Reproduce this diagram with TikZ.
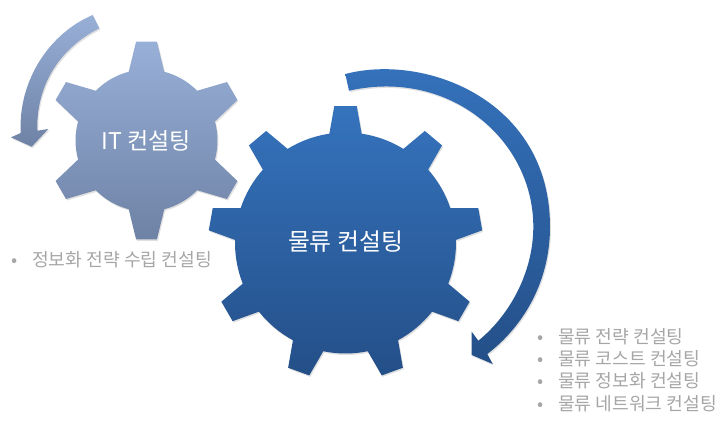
\documentclass[tikz,border=0pt]{standalone}
\usepackage{fontspec}
\setmainfont{Noto Sans CJK KR}
\usetikzlibrary{positioning, shadows}
\definecolor{palehigh}{HTML}{98AFD7}
\definecolor{palelow}{HTML}{6E82A5}
\definecolor{deephigh}{HTML}{3573BD}
\definecolor{deeplow}{HTML}{244F88}
\definecolor{notegray}{HTML}{A6A6A6}

\begin{document}
\begin{tikzpicture}[x=1pt,y=-1pt]
\tikzstyle{softshadow}=[drop shadow={opacity=.3,shadow xshift=1pt,shadow yshift=-1.5pt,fill=black!40}]
\tikzstyle{palepart}=[softshadow,postaction={top color=palehigh,bottom color=palelow}]
\tikzstyle{deeppart}=[softshadow,postaction={top color=deephigh,bottom color=deeplow}]
\tikzstyle{gearlabel}=[text=white]
\tikzstyle{noteline}=[text=notegray,font=\fontsize{18.2}{20}\selectfont,inner xsep=0pt,inner ysep=3pt,text height=12pt,text depth=4pt]

\useasboundingbox (0,0) rectangle (720,421);

% small gear
\path[palepart,shift={(146.5,140.5)}] ({-90-14.5}:71)
  foreach \a in {-90,-30,...,210} {
    -- ({\a-6}:99.5) -- ({\a+6}:99.5) -- ({\a+14.5}:71)
    arc[start angle=\a+14.5,end angle=\a+45.5,radius=71]
  } -- cycle;

% small arrow
\path[palepart] (92.7,15) .. controls (50,33) and (18,80) .. (20.7,133)
  -- (11,137.3) -- (31.7,146.7) -- (48.3,129) -- (37.3,130.7)
  .. controls (36,85) and (60,48) .. (99.3,28.3) -- cycle;

% big gear
\path[deeppart,shift={(345.5,243)}] ({-90-8.4}:110.5)
  foreach \a in {-90,-50,...,230} {
    -- ({\a-4.7}:137.3) -- ({\a+4.7}:137.3) -- ({\a+8.4}:110.5)
    arc[start angle=\a+8.4,end angle=\a+31.6,radius=110.5]
  } -- cycle;

% big arrow
\path[deeppart] (345.3,74) .. controls (425,53) and (550,100) .. (550,226.7)
  .. controls (550,280) and (525,325) .. (487.3,354)
  -- (492.7,364) -- (471.7,355) -- (471.7,331.7) -- (478.3,340.7)
  .. controls (510,315) and (533.3,272) .. (533.3,226.7)
  .. controls (533.3,140) and (450,68) .. (349,90.7) -- cycle;

\node[gearlabel,font=\fontsize{23}{26}\selectfont] (itlabel) at (146.5,141) {IT 컨설팅};
\node[gearlabel,font=\fontsize{23.8}{28}\selectfont] (loglabel) at (345.5,242) {물류 컨설팅};

\node[noteline,anchor=west] (itnote) at (11,262) {\makebox[21pt][l]{•}정보화 전략 수립 컨설팅};

\node[noteline,anchor=west] (lognote1) at (537,339) {\makebox[21pt][l]{•}물류 전략 컨설팅};
\node[noteline,below right=0pt and 0pt of lognote1.south west] (lognote2) {\makebox[21pt][l]{•}물류 코스트 컨설팅};
\node[noteline,below right=0pt and 0pt of lognote2.south west] (lognote3) {\makebox[21pt][l]{•}물류 정보화 컨설팅};
\node[noteline,below right=0pt and 0pt of lognote3.south west] (lognote4) {\makebox[21pt][l]{•}물류 네트워크 컨설팅};
\end{tikzpicture}
\end{document}
